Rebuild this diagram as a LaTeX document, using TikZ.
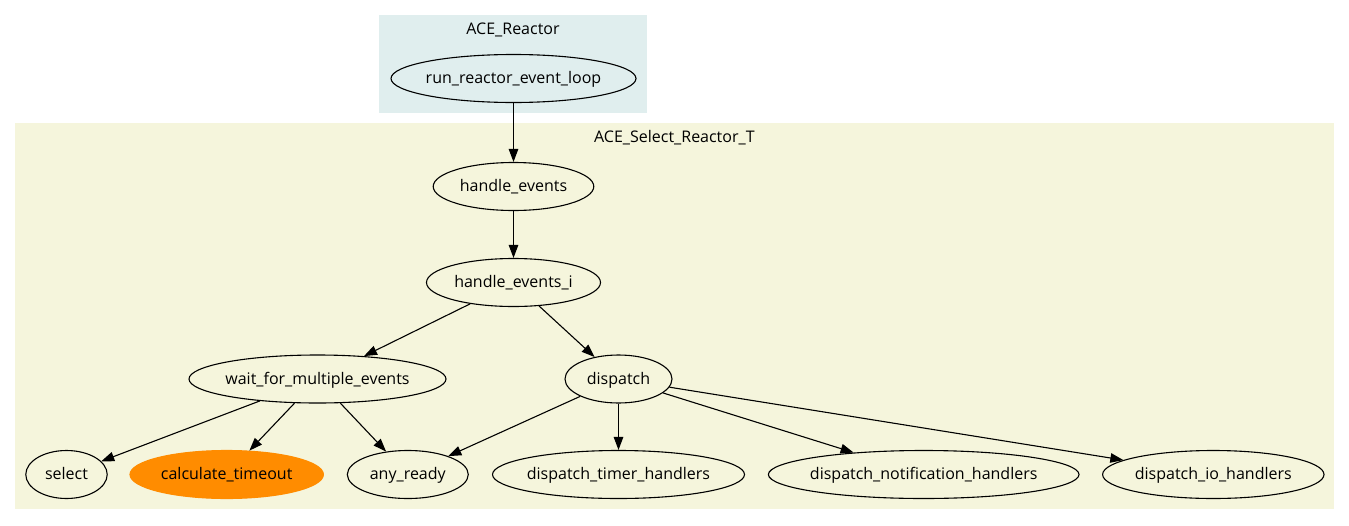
\documentclass[tikz,border=0pt]{standalone}
\usepackage{fontspec}
\setmainfont{Open Sans}
\usetikzlibrary{shapes.geometric,arrows.meta}
\definecolor{reactorbg}{HTML}{E0EEEE}
\definecolor{selectbg}{HTML}{F5F5DC}
\definecolor{hot}{HTML}{FF8C00}
\begin{document}
\begin{tikzpicture}[x=1pt,y=-1pt,
  lbl/.style={font=\fontsize{16}{19}\selectfont, inner sep=0pt},
  ell/.style n args={2}{ellipse, draw=black, line width=1.1pt, inner sep=0pt,
    minimum height=48pt, minimum width=#1,
    label={[lbl,text height=11pt,text depth=3pt,yshift=-1pt]center:#2}},
  conn/.style={line width=1.1pt, -{Triangle[length=13pt,width=9.5pt]}},
  ]
\useasboundingbox (0,0) rectangle (1349,525);
\fill[white] (0,0) rectangle (1349,525);
\fill[reactorbg] (379.3,15) rectangle (647,113.3);
\fill[selectbg] (15.3,123.3) rectangle (1334,509.3);
\node[lbl, anchor=base] (treactor) at (513,34) {ACE\_Reactor};
\node[lbl, anchor=base] (tselect) at (674.4,142.3) {ACE\_Select\_Reactor\_T};

\node[ell={245pt}{run\_reactor\_event\_loop}] (run) at (513.5,78.5) {};
\node[ell={160.6pt}{handle\_events}] (he) at (513.5,186.5) {};
\node[ell={174pt}{handle\_events\_i}] (hei) at (513.5,282.5) {};
\node[ell={257pt}{wait\_for\_multiple\_events}] (wait) at (317.5,379) {};
\node[ell={107pt}{dispatch}] (disp) at (618.5,379) {};
\node[ell={81.4pt}{select}] (sel) at (66.5,474.5) {};
\node[ell={193.4pt}{calculate\_timeout}, fill=hot, draw=hot] (calc) at (226.7,474.5) {};
\node[ell={121pt}{any\_ready}] (any) at (407.8,474.5) {};
\node[ell={252pt}{dispatch\_timer\_handlers}] (timer) at (618.5,474.5) {};
\node[ell={310.6pt}{dispatch\_notification\_handlers}] (notif) at (923.7,474.5) {};
\node[ell={221.4pt}{dispatch\_io\_handlers}] (io) at (1213.3,474.5) {};

\draw[conn] (run) -- (he);
\draw[conn] (he) -- (hei);
\draw[conn] (hei) -- (wait);
\draw[conn] (hei) -- (disp);
\draw[conn] (wait) -- (sel);
\draw[conn] (wait) -- (calc);
\draw[conn] (wait) -- (any);
\draw[conn] (disp) -- (any);
\draw[conn] (disp) -- (timer);
\draw[conn] (disp) -- (notif);
\draw[conn] (disp) -- (io);
\end{tikzpicture}
\end{document}
